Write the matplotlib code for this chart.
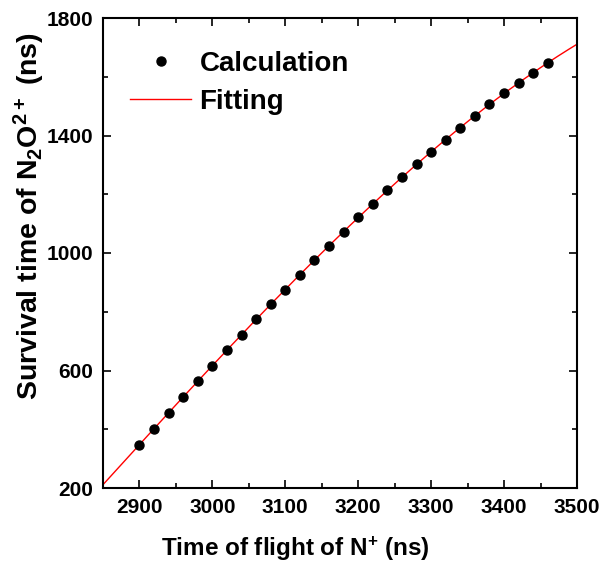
import numpy as np
import matplotlib.pyplot as plt

plt.rcParams['font.family'] = ['Liberation Sans', 'DejaVu Sans']
plt.rcParams['font.weight'] = 'bold'
plt.rcParams['mathtext.fontset'] = 'custom'
plt.rcParams['mathtext.rm'] = 'Liberation Sans:bold'
plt.rcParams['mathtext.bf'] = 'Liberation Sans:bold'
plt.rcParams['mathtext.default'] = 'bf'

# calculated survival time vs. N+ time of flight
tof = [2900, 2920, 2940, 2960, 2980, 3000, 3020, 3040, 3060, 3080,
       3100, 3120, 3140, 3160, 3180, 3200, 3220, 3240, 3260, 3280,
       3300, 3320, 3340, 3360, 3380, 3400, 3420, 3440, 3460]
survival = [348, 402, 456, 510, 563, 617, 669, 722, 775, 826,
            875, 926, 975, 1025, 1072, 1121, 1168, 1214, 1258, 1303,
            1345, 1385, 1427, 1466, 1506, 1543, 1580, 1614, 1648]

# polynomial fit, drawn over the whole x range
coef = np.polyfit(tof, survival, 3)
xfit = np.linspace(2850, 3500, 300)
yfit = np.polyval(coef, xfit)

fig = plt.figure(figsize=(6.01, 5.73), dpi=100)
ax = fig.add_axes([103 / 601, 85 / 573, 474 / 601, 470 / 573])

ax.plot(tof, survival, 'o', color='black', markersize=6.5, label='Calculation', zorder=3)
ax.plot(xfit, yfit, '-', color='red', linewidth=1.0, label='Fitting', zorder=2)

ax.set_xlim(2850, 3500)
ax.set_ylim(200, 1800)
ax.set_xticks([2900, 3000, 3100, 3200, 3300, 3400, 3500])
ax.set_xticks(np.arange(2850, 3501, 50), minor=True)
ax.set_yticks([200, 600, 1000, 1400, 1800])
ax.set_yticks(np.arange(200, 1801, 200), minor=True)

ax.tick_params(which='both', direction='in', top=True, right=True, width=1.2)
ax.tick_params(which='major', length=6, labelsize=15, pad=7)
ax.tick_params(which='minor', length=3.5)
for s in ax.spines.values():
    s.set_linewidth(1.5)

ax.set_xlabel('Time of flight of N$^{+}$ (ns)', fontsize=17.5, fontweight='bold')
ax.set_ylabel('Survival time of N$_{2}$O$^{2+}$ (ns)', fontsize=20.5, fontweight='bold')
ax.xaxis.set_label_coords(0.405, -0.100)
ax.yaxis.set_label_coords(-0.118, 0.578)

ax.legend(loc='upper left', frameon=False, fontsize=20, handlelength=2.2,
          borderaxespad=0, borderpad=0, bbox_to_anchor=(0.057, 0.93),
          handletextpad=0.3, labelspacing=0.42, markerscale=1.0)

fig.savefig('out.png', dpi=100)
